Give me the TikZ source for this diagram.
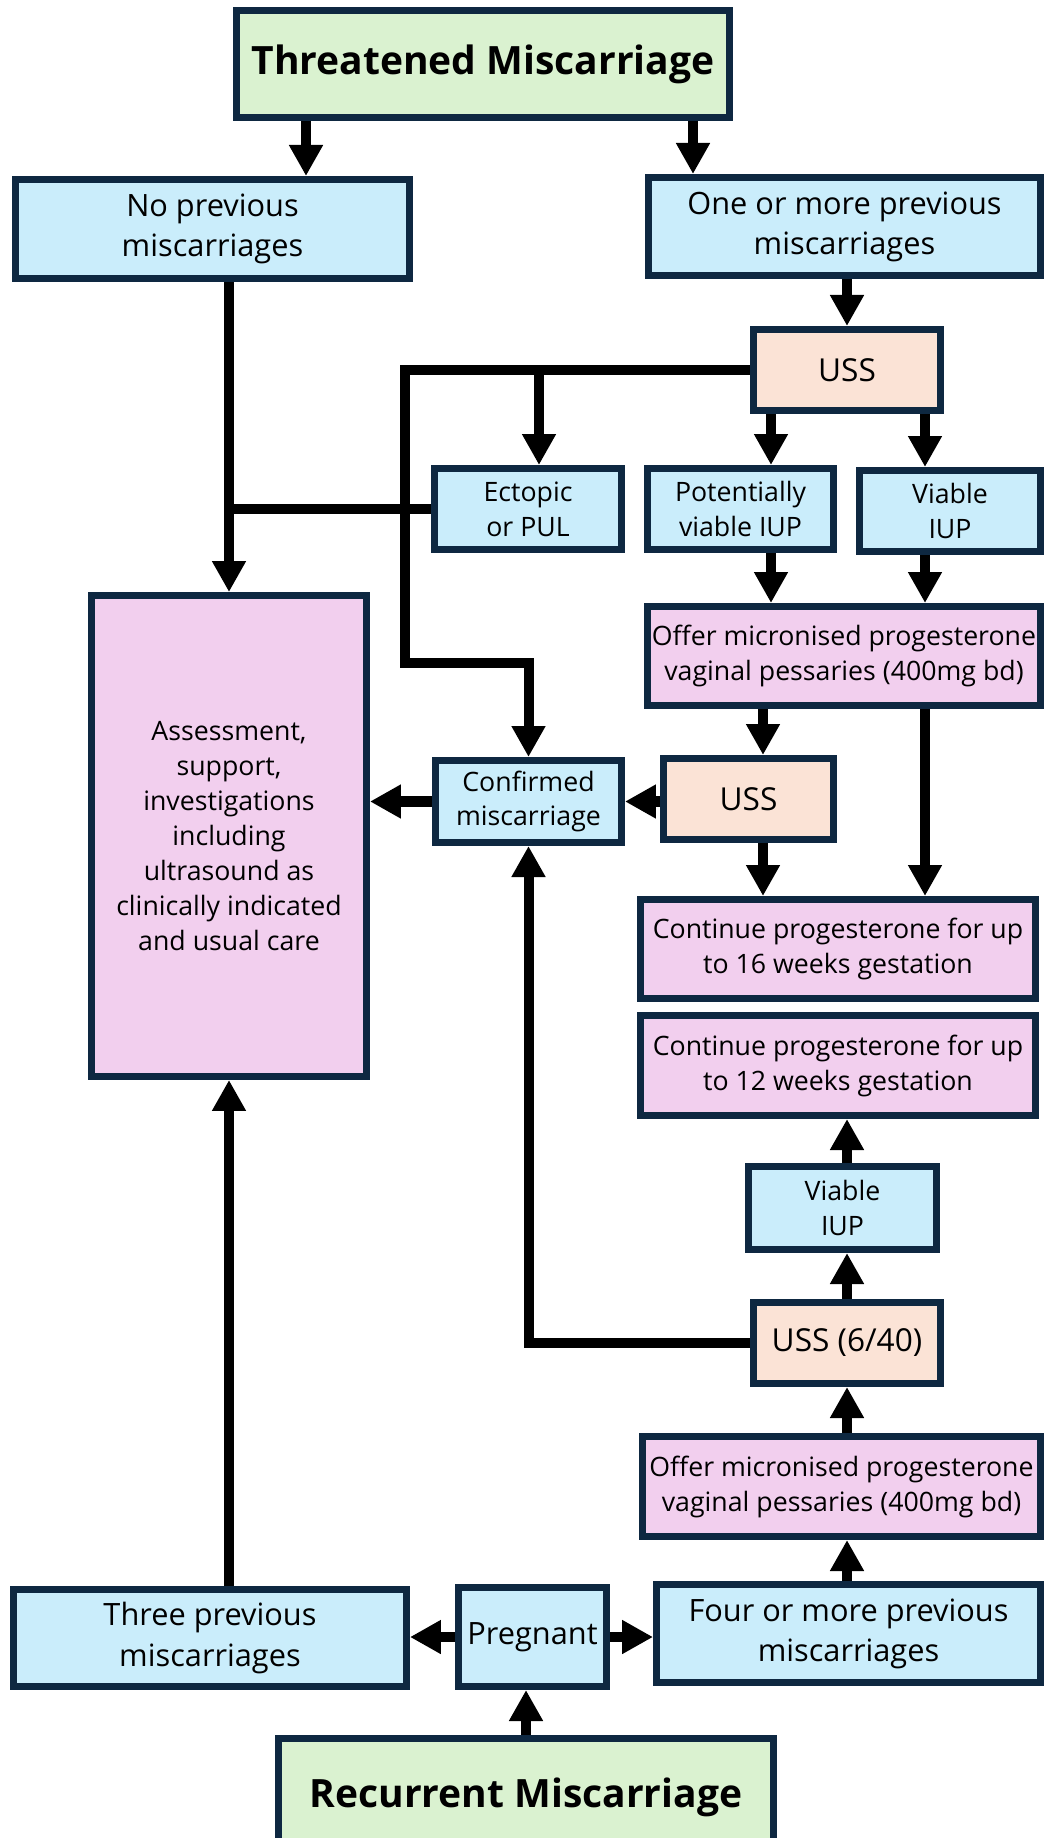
\documentclass[tikz,border=0pt]{standalone}
\usepackage{fontspec}
\setmainfont{Open Sans}
\usetikzlibrary{arrows.meta,positioning,calc}
\definecolor{startgreen}{HTML}{DAF2D0}
\definecolor{infoblue}{HTML}{CAEDFB}
\definecolor{scanpeach}{HTML}{FBE3D6}
\definecolor{carepink}{HTML}{F2CFEE}
\definecolor{boxline}{HTML}{0E2841}
\newcommand{\smalltxt}{\fontsize{15.2}{19.9}\selectfont}
\newcommand{\bigtxt}{\fontsize{17.5}{22.8}\selectfont}
\newcommand{\scantxt}{\fontsize{18}{22.8}\selectfont}
\newcommand{\titletxt}{\fontsize{22.2}{26}\selectfont\bfseries}
\tikzset{
  box/.style={draw=boxline, line width=4pt, align=center, inner sep=0pt},
  startbox/.style={box, fill=startgreen, font=\titletxt},
  infobox/.style={box, fill=infoblue, font=\smalltxt},
  bigbox/.style={box, fill=infoblue, font=\bigtxt},
  scanbox/.style={box, fill=scanpeach, font=\scantxt},
  carebox/.style={box, fill=carepink, font=\smalltxt},
  link/.style={line width=5.7pt, black},
  arr/.style={link, -{Triangle[length=0.62cm,width=0.64cm]}},
}
\begin{document}
\begin{tikzpicture}[x=0.02cm, y=-0.02cm]
\useasboundingbox (0,0) rectangle (1046,1838);
\node[startbox, minimum width=9.86cm, minimum height=2.14cm] (threat) at (483,64) {Threatened Miscarriage};
\node[bigbox, minimum width=7.88cm, minimum height=1.98cm] (noprev) at (212.5,229) {No previous\\miscarriages};
\node[bigbox, minimum width=7.84cm, minimum height=1.96cm] (oneprev) at (844.5,226.5) {One or more previous\\miscarriages};
\node[scanbox, minimum width=3.74cm, minimum height=1.62cm] (uss1) at (847,370) {USS};
\node[infobox, minimum width=3.74cm, minimum height=1.62cm] (ectopic) at (528,509) {Ectopic\\or PUL};
\node[infobox, minimum width=3.72cm, minimum height=1.62cm] (potviable) at (740.5,509) {Potentially\\viable IUP};
\node[infobox, minimum width=3.62cm, minimum height=1.62cm] (viable) at (950,511) {Viable\\IUP};
\node[carebox, minimum width=7.86cm, minimum height=1.98cm] (offer) at (844,656) {Offer micronised progesterone\\vaginal pessaries (400mg bd)};
\node[carebox, minimum width=5.50cm, minimum height=9.62cm] (assess) at (229,836) {Assessment,\\support,\\investigations\\including\\ultrasound as\\clinically indicated\\and usual care};
\node[infobox, minimum width=3.72cm, minimum height=1.64cm] (confirmed) at (528.5,801.5) {Confirmed\\miscarriage};
\node[scanbox, minimum width=3.40cm, minimum height=1.62cm] (scan) at (748.5,799) {USS};
\node[carebox, minimum width=7.90cm, minimum height=1.98cm] (cont16) at (838,949) {Continue progesterone for up\\to 16 weeks gestation};
\node[carebox, minimum width=7.90cm, minimum height=2.00cm] (cont12) at (838,1065.5) {Continue progesterone for up\\to 12 weeks gestation};
\node[infobox, minimum width=3.76cm, minimum height=1.66cm] (viable2) at (842.5,1208) {Viable\\IUP};
\node[scanbox, minimum width=3.74cm, minimum height=1.62cm] (uss640) at (847,1343) {USS (6/40)};
\node[carebox, minimum width=7.96cm, minimum height=2.00cm] (offer2) at (841.5,1486.5) {Offer micronised progesterone\\vaginal pessaries (400mg bd)};
\node[bigbox, minimum width=7.86cm, minimum height=1.94cm] (three) at (210,1638) {Three previous\\miscarriages};
\node[bigbox, minimum width=2.96cm, minimum height=1.98cm] (pregnant) at (532.5,1637) {Pregnant};
\node[bigbox, minimum width=7.68cm, minimum height=1.96cm] (four) at (848.5,1633.5) {Four or more previous\\miscarriages};
\node[startbox, minimum width=9.90cm, minimum height=2.36cm] (recurrent) at (526,1797) {Recurrent Miscarriage};

\coordinate (colL) at (306,0);
\coordinate (colR) at (693,0);
\coordinate (colE) at (539,0);
\coordinate (colP) at (771,0);
\coordinate (colU) at (763,0);
\coordinate (colV) at (925,0);
\coordinate (bend) at (405,663);

\draw[arr] (threat.south -| colL) -- (noprev.north -| colL);
\draw[arr] (threat.south -| colR) -- (oneprev.north -| colR);
\draw[arr] (oneprev.south -| uss1) -- (uss1.north);
\draw[arr] (uss1.south -| colP) -- (potviable.north -| colP);
\draw[arr] (uss1.south -| colV) -- (viable.north -| colV);
\draw[arr] (potviable.south -| colP) -- (offer.north -| colP);
\draw[arr] (viable.south -| colV) -- (offer.north -| colV);
\draw[arr] (offer.south -| colU) -- (scan.north -| colU);
\draw[arr] (scan.south -| colU) -- (cont16.north -| colU);
\draw[arr] (offer.south -| colV) -- (cont16.north -| colV);
\draw[arr] (uss1.west) -| (bend) -| (confirmed.north);
\draw[arr] (uss1.west -| colE) -- (ectopic.north -| colE);
\draw[arr] (noprev.south -| assess) -- (assess.north);
\draw[link] (ectopic.west) -- (ectopic.west -| assess);
\draw[arr] (scan.west |- confirmed) -- (confirmed.east);
\draw[arr] (confirmed.west) -- (confirmed.west -| assess.east);
\draw[arr] (uss640.west) -| (confirmed.south);
\draw[arr] (uss640.north) -- (viable2.south -| uss640);
\draw[arr] (viable2.north -| uss640) -- (cont12.south -| uss640);
\draw[arr] (offer2.north -| uss640) -- (uss640.south);
\draw[arr] (four.north -| uss640) -- (offer2.south -| uss640);
\draw[arr] (pregnant.east) -- (four.west |- pregnant);
\draw[arr] (pregnant.west) -- (three.east |- pregnant);
\draw[arr] (recurrent.north) -- (pregnant.south -| recurrent);
\draw[arr] (three.north -| assess) -- (assess.south);
\end{tikzpicture}
\end{document}
